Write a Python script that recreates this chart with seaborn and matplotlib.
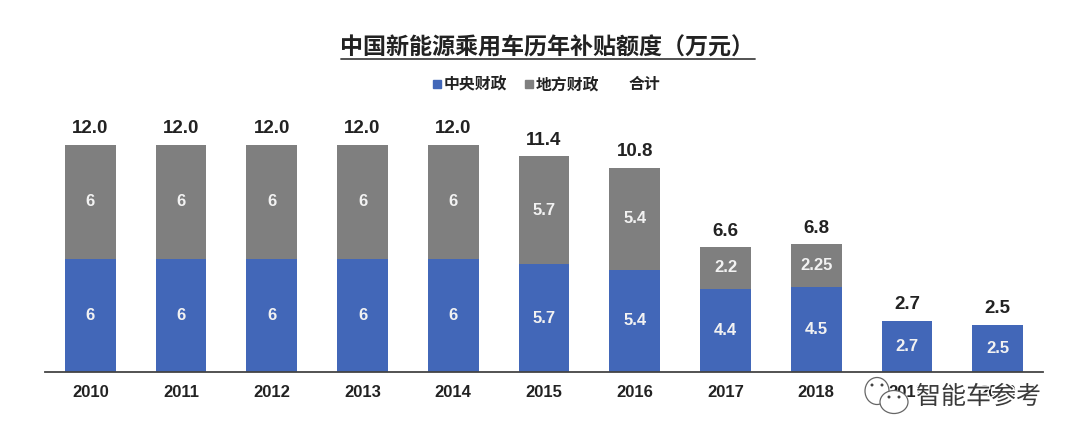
import matplotlib
matplotlib.use("Agg")
import matplotlib.pyplot as plt
import matplotlib.patheffects as pe
from matplotlib.patches import Ellipse
import seaborn as sns
import pandas as pd

sns.set_theme(style="white")
plt.rcParams['font.family'] = ['Noto Sans CJK SC', 'DejaVu Sans']

years = ['2010','2011','2012','2013','2014','2015','2016','2017','2018','2019','2020']
central = [6,6,6,6,6,5.7,5.4,4.4,4.5,2.7,2.5]
local = [6,6,6,6,6,5.7,5.4,2.2,2.25,0,0]
central_labels = ['6','6','6','6','6','5.7','5.4','4.4','4.5','2.7','2.5']
local_labels = ['6','6','6','6','6','5.7','5.4','2.2','2.25','','']
totals = ['12.0','12.0','12.0','12.0','12.0','11.4','10.8','6.6','6.8','2.7','2.5']
total_values = [12,12,12,12,12,11.4,10.8,6.6,6.75,2.7,2.5]

BLUE = '#4267B8'
GREY = '#7F7F7F'
LAT = ['Liberation Sans']

fig = plt.figure(figsize=(10.8,4.44), dpi=100, facecolor='white')
ax = fig.add_axes([45/1080, 1-372/444, (1043-45)/1080, (372-145)/444])
df = pd.DataFrame({'year':years,'total':total_values,'central':central})
sns.barplot(data=df,x='year',y='total',color=GREY,saturation=1,width=0.56,linewidth=0,ax=ax)
sns.barplot(data=df,x='year',y='central',color=BLUE,saturation=1,width=0.56,linewidth=0,ax=ax)
ax.set_xlim(-0.5,10.5)
ax.set_ylim(0,12)
ax.set_xlabel('');ax.set_ylabel('')
ax.set_yticks([])
ax.tick_params(axis='x',length=0,pad=9,labelsize=12,colors='#222222')
for t in ax.get_xticklabels():
    t.set_fontweight('bold'); t.set_family(LAT)
for s in ['top','left','right']:
    ax.spines[s].set_visible(False)
ax.spines['bottom'].set_color('#444444'); ax.spines['bottom'].set_linewidth(1.3)
for i in range(len(years)):
    ax.text(i,central[i]/2,central_labels[i],ha='center',va='center',color='#F2F2F2',fontsize=12,fontweight='bold',family=LAT)
    if local[i]:
        ax.text(i,central[i]+local[i]/2,local_labels[i],ha='center',va='center',color='#F2F2F2',fontsize=12,fontweight='bold',family=LAT)
    ax.text(i,total_values[i]+0.4,totals[i],ha='center',va='bottom',color='#222222',fontsize=13.5,fontweight='bold',family=LAT)

fig.text(547/1080,1-55/444,'中国新能源乘用车历年补贴额度（万元）',ha='center',va='baseline',fontsize=16.6,fontweight='bold',color='#222222')
fig.add_artist(plt.Line2D([341/1080,755/1080],[1-59/444]*2,color='#444444',lw=1.3))
fig.add_artist(plt.Rectangle((433/1080,1-88/444),8/1080,8/444,color=BLUE))
fig.text(444/1080,1-89/444,'中央财政',va='baseline',fontsize=11.4,fontweight='bold',color='#222222')
fig.add_artist(plt.Rectangle((525/1080,1-88/444),8/1080,8/444,color=GREY))
fig.text(536/1080,1-91/444,'地方财政',va='baseline',fontsize=11.4,fontweight='bold',color='#222222')
fig.text(629/1080,1-89/444,'合计',va='baseline',fontsize=11.4,fontweight='bold',color='#222222')

# WeChat-style watermark
for cx,cy,w,h in [(877,391,24,27),(894,402,28,23)]:
    fig.add_artist(Ellipse((cx/1080,1-cy/444),w/1080,h/444,facecolor='white',edgecolor='#666666',lw=0.9,zorder=5))
for cx,cy in [(872,385),(882,385),(889,397),(899,397)]:
    fig.add_artist(Ellipse((cx/1080,1-cy/444),3/1080,3/444,facecolor='#444444',edgecolor='none',zorder=6))
fig.text(916/1080,1-397/444,'智能车参考',va='center',fontsize=18,color='#3A3A3A',zorder=6,
         path_effects=[pe.withStroke(linewidth=2,foreground='white')])
fig.savefig('out.png',dpi=100)
